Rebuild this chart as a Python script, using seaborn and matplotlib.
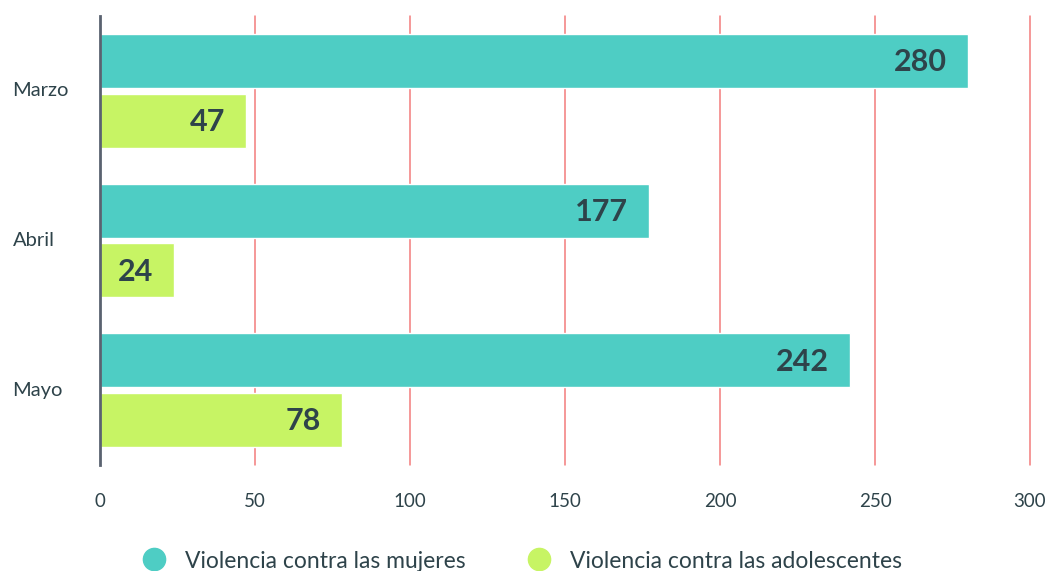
import matplotlib
matplotlib.use("Agg")
import matplotlib.pyplot as plt
from matplotlib.lines import Line2D
import seaborn as sns
import pandas as pd

months = ["Marzo", "Abril", "Mayo"]
series_names = ["Violencia contra las mujeres", "Violencia contra las adolescentes"]
mujeres = [280, 177, 242]
adolescentes = [47, 24, 78]
x_ticks = [0, 50, 100, 150, 200, 250, 300]

colors = ["#4ECDC4", "#C7F464"]
text_color = "#2E434A"
grid_color = "#F27C7C"

df = pd.DataFrame({
    "mes": months * 2,
    "serie": [series_names[0]] * 3 + [series_names[1]] * 3,
    "valor": mujeres + adolescentes,
})

sns.set_theme(style="white")
plt.rcParams["font.family"] = ["Lato", "DejaVu Sans"]

fig = plt.figure(figsize=(10.49, 5.71), dpi=100)
ax = fig.add_axes([100 / 1049, 1 - 465 / 571, 930 / 1049, 449 / 571])

sns.barplot(data=df, y="mes", x="valor", hue="serie", order=months,
            hue_order=series_names, palette=colors, orient="h",
            width=0.8, gap=0.1, saturation=1, legend=False, ax=ax, errorbar=None)

ax.set_xlim(0, 300)
ax.set_ylim(2.5, -0.5)
ax.set_xticks(x_ticks)
ax.set_xticklabels([str(t) for t in x_ticks])
ax.set_xlabel("")
ax.set_ylabel("")

for t in x_ticks[1:]:
    ax.axvline(t, color=grid_color, lw=1.1, zorder=0, clip_on=False)

for s in ["top", "right", "bottom"]:
    ax.spines[s].set_visible(False)
ax.spines["left"].set_color("#5A6270")
ax.spines["left"].set_linewidth(2)
ax.spines["left"].set_zorder(5)

ax.tick_params(axis="x", length=0, pad=20, labelsize=13.5, labelcolor=text_color)
ax.tick_params(axis="y", length=0, pad=63, labelsize=14.5, labelcolor=text_color)
for lbl in ax.get_yticklabels():
    lbl.set_ha("left")
    lbl.set_va("center")

for p in ax.patches:
    w = p.get_width()
    if w <= 0:
        continue
    y = p.get_y() + p.get_height() / 2
    ax.annotate(f"{int(round(w))}", xy=(w, y), xytext=(-15, -1),
                textcoords="offset points", ha="right", va="center",
                fontsize=22, fontweight="bold", color=text_color)

handles = [Line2D([0], [0], marker="o", linestyle="", markersize=16,
                  markerfacecolor=c, markeredgecolor=c) for c in colors]
fig.legend(handles, series_names, loc="center", bbox_to_anchor=(0.497, 1 - 561 / 571),
           ncol=2, frameon=False, fontsize=16.5, labelcolor=text_color,
           handletextpad=0.75, columnspacing=2.6, handlelength=1.2)

fig.savefig("out.png", dpi=100, facecolor="white")
